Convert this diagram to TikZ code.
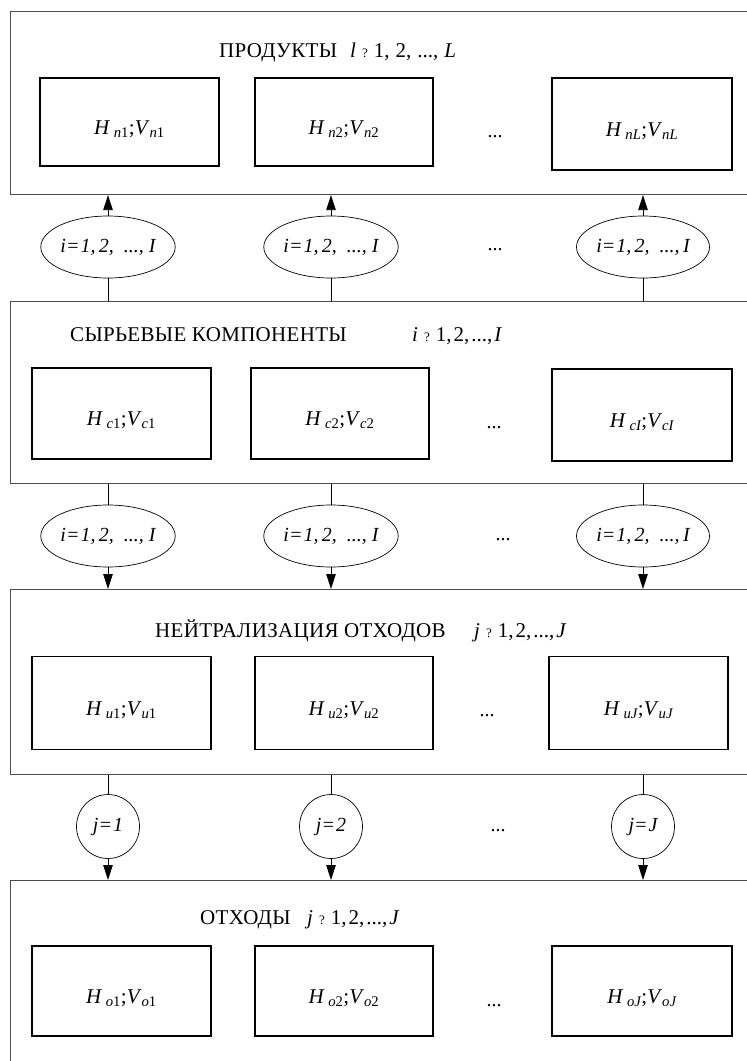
\documentclass[tikz,border=0pt]{standalone}
\usepackage{amsmath}
\usepackage{fontspec}
\setmainfont{Liberation Serif}
\newfontfamily\ttlfont[LetterSpace=1.5]{Liberation Serif}
\usetikzlibrary{arrows.meta,shapes.geometric}
\newcommand{\hvlab}[2]{\raisebox{-12pt}[0pt][0pt]{\fontsize{21}{23}\selectfont\textit{H}\,$_{\text{\itshape #1}\text{#2}}$;\textit{V}$_{\text{\itshape #1}\text{#2}}$}}
\newcommand{\qm}{{\fontsize{13}{14}\selectfont ?}}
% index range: #1 letter, #2 upper letter, #3 gap
\newcommand{\rng}[3]{\fontsize{21}{23}\selectfont\textit{#1}\hspace{6pt}\qm\hspace{6pt}1,\hspace{#3}2,\hspace{#3}...,\hspace{#3}\textit{#2}}
\newcommand{\ilab}[1]{i=\kern1pt1,\,2,\ \ ...,#1\textit{I}}
\begin{document}
\begin{tikzpicture}[x=1pt,y=-1pt,
  panel/.style={draw=black!70, line width=1.1pt, rectangle, inner sep=0pt, anchor=north west, minimum width=760pt},
  vbox/.style={draw, line width=1.7pt, rectangle, inner sep=0pt, minimum width=179pt, minimum height=92pt},
  conn/.style={line width=0.8pt},
  arr/.style={conn, -{Triangle[length=15pt,width=9.5pt]}},
  oval/.style={ellipse, draw, line width=0.7pt, inner sep=0pt, minimum width=133pt, minimum height=62pt, font=\fontsize{20}{22}\selectfont\itshape},
  circ/.style={ellipse, draw, line width=0.7pt, inner sep=0pt, minimum width=63pt, minimum height=64pt, font=\fontsize{20}{22}\selectfont\itshape},
  ttl/.style={anchor=base west, inner sep=0pt, font=\fontsize{21}{23}\ttlfont},
  rngs/.style={anchor=base west, inner sep=0pt},
  dots/.style={inner sep=0pt, anchor=base, font=\fontsize{20}{22}\selectfont}]
\useasboundingbox (0,0) rectangle (747,1061);

% panels
\node[panel, minimum height=183pt] (P1) at (10,11) {};
\node[panel, minimum height=182pt] (P2) at (10,301) {};
\node[panel, minimum height=185pt] (P3) at (10,589) {};
\node[panel, minimum height=220pt] (P4) at (10,880) {};

% titles
\node[ttl] (t1a) at (219,57) {ПРОДУКТЫ};
\node[rngs] (t1b) at (350,57) {\rng{l}{L}{6pt}};
\node[ttl] (t2a) at (70,341) {СЫРЬЕВЫЕ КОМПОНЕНТЫ};
\node[rngs] (t2b) at (412,341) {\rng{i}{I}{2pt}};
\node[ttl] (t3a) at (155,637) {НЕЙТРАЛИЗАЦИЯ ОТХОДОВ};
\node[rngs] (t3b) at (474,637) {\rng{j}{J}{2pt}};
\node[ttl] (t4a) at (200,924) {ОТХОДЫ};
\node[rngs] (t4b) at (307,924) {\rng{j}{J}{2pt}};

% boxes panel 1
\node[vbox, minimum height=88pt] (n1) at (129.5,122) {\hvlab{n}{1}};
\node[vbox, minimum height=88pt, minimum width=178pt] (n2) at (344,122) {\hvlab{n}{2}};
\node[vbox, minimum width=180pt] (nL) at (642,124) {\hvlab{nL}{}};
\node[dots] (d1) at (495,137) {...};
% boxes panel 2
\node[vbox, minimum height=91pt] (c1) at (121.5,413.5) {\hvlab{c}{1}};
\node[vbox, minimum height=91pt, minimum width=178pt] (c2) at (340,413.5) {\hvlab{c}{2}};
\node[vbox, minimum width=180pt] (cI) at (642,415) {\hvlab{cI}{}};
\node[dots] (d2) at (494,428) {...};
% boxes panel 3
\node[vbox, minimum height=93pt] (u1) at (121.5,703) {\hvlab{u}{1}};
\node[vbox, minimum height=93pt, minimum width=178pt] (u2) at (344,703) {\hvlab{u}{2}};
\node[vbox, minimum height=93pt] (uJ) at (638.5,703) {\hvlab{uJ}{}};
\node[dots] (d3) at (487,716) {...};
% boxes panel 4
\node[vbox, minimum height=90pt] (o1) at (121.5,991) {\hvlab{o}{1}};
\node[vbox, minimum height=90pt, minimum width=178pt] (o2) at (344,991) {\hvlab{o}{2}};
\node[vbox, minimum height=90pt, minimum width=180pt] (oJ) at (642,991) {\hvlab{oJ}{}};
\node[dots] (d4) at (494,1006) {...};

% row 1 ellipses
\node[oval] (e1) at (108,247) {\ilab{\ }};
\node[oval] (e2) at (331,247) {\ilab{\ }};
\node[oval] (e3) at (643,247) {\ilab{\,}};
\node[dots] (de) at (495,250) {...};
% row 2 ellipses
\node[oval] (f1) at (108,536) {\ilab{\ }};
\node[oval] (f2) at (331,536) {\ilab{\ }};
\node[oval] (f3) at (643,536) {\ilab{\,}};
\node[dots] (df) at (503,540) {...};
% row 3 circles
\node[circ] (g1) at (108,826.5) {j=\kern1pt1};
\node[circ] (g2) at (331,826.5) {j=\kern1pt2};
\node[circ] (g3) at (643,826.5) {j=\kern1pt J};
\node[dots] (dg) at (498,831) {...};

% connectors row 1
\foreach \e in {e1,e2,e3}{
  \draw[conn] (\e |- P2.north) -- (\e.south);
  \draw[arr] (\e.north) -- (\e |- P1.south);
}
% connectors row 2
\foreach \e in {f1,f2,f3}{
  \draw[conn] (\e |- P2.south) -- (\e.north);
  \draw[arr] (\e.south) -- (\e |- P3.north);
}
% connectors row 3
\foreach \e in {g1,g2,g3}{
  \draw[conn] (\e |- P3.south) -- (\e.north);
  \draw[arr] (\e.south) -- (\e |- P4.north);
}
\end{tikzpicture}
\end{document}
